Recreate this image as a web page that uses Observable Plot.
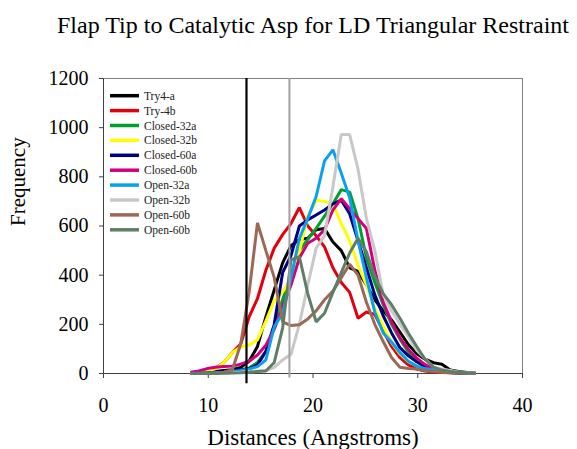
<!DOCTYPE html>
<html>
<head>
<meta charset="utf-8">
<script src="https://cdn.jsdelivr.net/npm/d3@7"></script>
<script src="https://cdn.jsdelivr.net/npm/@observablehq/plot@0.6"></script>
<style>
  html, body { margin: 0; padding: 0; background: #ffffff; }
  #chart { width: 577px; height: 449px; }
</style>
</head>
<body>
<div id="chart"></div>
<script>
// Histogram bin centres (Angstroms)
const bins = [8.3, 9.1, 9.9, 10.7, 11.5, 12.3, 13.1, 13.9, 14.7, 15.5, 16.3, 17.1, 17.9, 18.7, 19.5,
  20.3, 21.1, 21.9, 22.7, 23.5, 24.3, 25.1, 25.9, 26.7, 27.5, 28.3, 29.1, 29.9, 30.7, 31.5,
  32.3, 33.1, 33.9, 34.7, 35.5];

// Frequency counts per run, one value per bin
const try4a = [0, 2, 5, 8, 12, 15, 25, 50, 110, 230, 340, 450, 520, 545, 550, 585, 590, 535, 500, 430,
  415, 360, 300, 255, 218, 168, 118, 80, 58, 44, 38, 14, 8, 4, 2];
const try4b = [3, 5, 10, 22, 45, 85, 120, 230, 305, 420, 510, 565, 610, 675, 600, 560, 515, 430, 370, 330,
  225, 250, 240, 175, 110, 65, 35, 18, 10, 6, 4, 3, 2, 1, 0];
const closed32a = [0, 1, 2, 3, 5, 8, 12, 22, 45, 90, 190, 300, 400, 500, 545, 590, 640, 690, 748, 738,
  630, 470, 370, 280, 200, 140, 88, 50, 30, 18, 10, 5, 2, 1, 0];
const closed32b = [2, 5, 10, 20, 45, 85, 108, 115, 137, 213, 297, 332, 380, 496, 640, 705, 700, 690, 609, 540,
  440, 360, 265, 195, 126, 80, 48, 32, 20, 12, 8, 5, 3, 2, 1];
const closed60a = [1, 2, 3, 5, 8, 12, 15, 20, 35, 90, 200, 410, 480, 600, 625, 645, 665, 690, 705, 650,
  540, 430, 320, 235, 165, 105, 72, 48, 28, 15, 8, 4, 2, 1, 0];
const closed60b = [5, 10, 20, 25, 28, 30, 38, 50, 75, 115, 180, 270, 360, 470, 530, 550, 585, 665, 711, 670,
  630, 590, 420, 290, 210, 145, 98, 62, 36, 20, 10, 6, 3, 2, 1];
const open32a = [1, 1, 2, 3, 5, 8, 12, 18, 28, 55, 190, 245, 390, 550, 630, 720, 865, 910, 815, 715,
  540, 390, 250, 165, 128, 85, 50, 30, 20, 14, 12, 6, 3, 2, 1];
const open32b = [0, 0, 0, 1, 2, 3, 5, 8, 10, 12, 25, 55, 78, 200, 360, 510, 560, 760, 972, 972,
  830, 630, 500, 320, 255, 200, 150, 95, 60, 26, 18, 12, 6, 3, 1];
const open60bA = [0, 0, 1, 2, 5, 15, 120, 330, 612, 500, 390, 210, 195, 198, 222, 255, 300, 335, 390, 445,
  400, 290, 200, 130, 65, 25, 20, 18, 12, 8, 5, 3, 2, 1, 0];
const open60bB = [0, 0, 0, 0, 1, 2, 3, 5, 8, 10, 45, 185, 462, 475, 325, 210, 245, 330, 410, 490,
  550, 495, 395, 325, 280, 225, 165, 110, 58, 26, 14, 8, 5, 3, 2];

const seriesNames = ["Try4-a", "Try-4b", "Closed-32a", "Closed-32b", "Closed-60a", "Closed-60b",
  "Open-32a", "Open-32b", "Open-60b", "Open-60b"];
const seriesValues = [try4a, try4b, closed32a, closed32b, closed60a, closed60b, open32a, open32b, open60bA, open60bB];
const seriesColors = ["#000000", "#e2000f", "#00a030", "#ffff00", "#000080", "#d1007b",
  "#0aa0f0", "#c8c8c8", "#9b6a55", "#5e7e68"];

// Reference distances marked with vertical rules
const markers = [13.65, 17.75];
const markerColors = ["#000000", "#a0a0a0"];
const markerBottoms = [-42, -18];

const xTicks = [0, 10, 20, 30, 40];
const yTicks = [0, 200, 400, 600, 800, 1000, 1200];

const serif = "Liberation Serif";

const rows = seriesValues.map((vals, s) => bins.map((x, i) => ({x, y: vals[i], s})));

const svg = Plot.plot({
  width: 577,
  height: 449,
  marginLeft: 103,
  marginRight: 55,
  marginTop: 78,
  marginBottom: 76,
  style: {fontSize: "20px", fontFamily: serif, color: "#000", background: "#ffffff"},
  x: {domain: [0, 40]},
  y: {domain: [0, 1200]},
  marks: [
    Plot.frame({stroke: "#808080", strokeWidth: 1}),
    Plot.axisX({ticks: xTicks, tickSize: 5, tickPadding: 19, label: null, stroke: "#404040", fontSize: 20,
      fontFamily: serif}),
    Plot.axisY({ticks: yTicks, tickSize: 4, tickPadding: 11, label: null, stroke: "#404040", fontSize: 20,
      fontFamily: serif, tickFormat: d3.format("d")}),
    Plot.ruleX([0], {stroke: "#404040"}),
    Plot.ruleY([0], {stroke: "#404040"}),
    ...rows.map((r, s) => Plot.line(r, {x: "x", y: "y", stroke: seriesColors[s], strokeWidth: 3,
      strokeLinejoin: "miter", strokeLinecap: "butt"})),
    ...markers.map((m, i) => Plot.ruleX([m], {y1: markerBottoms[i], y2: 1200,
      stroke: markerColors[i], strokeWidth: i === 0 ? 2.2 : 2})),
    Plot.text(["Flap Tip to Catalytic Asp for LD Triangular Restraint"], {
      frameAnchor: "top", dy: -53, lineAnchor: "middle", fontSize: 24, fill: "#000", fontFamily: serif}),
    Plot.text(["Frequency"], {
      frameAnchor: "left", dx: -85, rotate: -90, lineAnchor: "middle", fontSize: 21, fill: "#000", fontFamily: serif}),
    Plot.text(["Distances (Angstroms)"], {
      frameAnchor: "bottom", dy: 64, lineAnchor: "middle", fontSize: 23, fill: "#000", fontFamily: serif})
  ]
});

// Legend inside the plot area, upper left
const legend = d3.select(svg).append("g")
  .attr("font-size", 11.5)
  .attr("font-family", serif)
  .attr("text-anchor", "start")
  .attr("fill", "#222");
seriesNames.forEach((name, i) => {
  const y = 95.7 + i * 14.9;
  legend.append("line")
    .attr("x1", 110).attr("x2", 139).attr("y1", y).attr("y2", y)
    .attr("stroke", seriesColors[i]).attr("stroke-width", 3.5);
  legend.append("text")
    .attr("x", 144).attr("y", y).attr("dy", "0.35em")
    .text(name);
});

document.getElementById("chart").appendChild(svg);
</script>
</body>
</html>
